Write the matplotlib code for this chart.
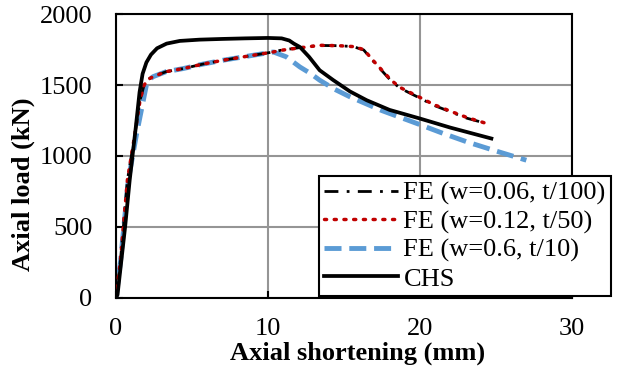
import matplotlib
matplotlib.use("Agg")
import matplotlib.pyplot as plt

plt.rcParams['font.family'] = ['Liberation Serif', 'DejaVu Serif']

# === Daten ===
# CHS
chs_x = [0.0, 0.1, 0.6, 0.9, 1.3, 1.55, 1.75, 2.0, 2.3, 2.7, 3.33, 4.2, 5.5, 7.0, 8.5, 10.0, 10.9, 11.4, 11.7, 12.1, 12.7, 13.4, 14.3, 15.4, 16.5, 18.0, 20.0, 22.0, 24.7]
chs_y = [0, 20, 500, 829, 1200, 1450, 1580, 1660, 1715, 1760, 1793, 1812, 1821, 1826, 1830, 1833, 1830, 1815, 1793, 1769, 1700, 1605, 1535, 1455, 1393, 1325, 1264, 1200, 1123]

# FE (w=0.6, t/10)
fe3_x = [0.0, 0.3, 0.81, 1.36, 1.8, 2.0, 2.2, 2.45, 3.3, 4.43, 5.7, 7.06, 8.7, 10.35, 11.2, 12.1, 12.8, 13.4, 14.4, 15.4, 17.5, 19.8, 21.5, 23.1, 25.0, 27.0]
fe3_y = [0, 260, 829, 1158, 1393, 1500, 1540, 1560, 1595, 1617, 1648, 1676, 1705, 1734, 1700, 1628, 1582, 1535, 1470, 1417, 1320, 1229, 1160, 1099, 1035, 970]

# FE (w=0.12, t/50)
fe2_x = [0.0, 0.3, 0.75, 1.25, 1.58, 1.85, 2.1, 2.45, 3.3, 4.43, 5.7, 7.06, 8.7, 10.35, 10.8, 12.1, 13.4, 14.7, 15.6, 16.3, 17.0, 18.1, 18.7, 20.0, 20.9, 22.0, 23.1, 24.6]
fe2_y = [0, 270, 829, 1158, 1393, 1500, 1540, 1560, 1595, 1617, 1648, 1676, 1705, 1734, 1745, 1763, 1781, 1778, 1772, 1751, 1664, 1535, 1483, 1413, 1363, 1316, 1271, 1222]

# FE (w=0.06, t/100)
fe1_x = [0.0, 0.3, 0.75, 1.25, 1.58, 1.85, 2.1, 2.45, 3.3, 4.43, 5.7, 7.06, 8.7, 10.35, 10.8, 12.1, 13.4, 14.7, 15.6, 16.3, 17.0, 18.1, 18.7, 20.0, 20.9, 22.0, 23.1, 24.0]
fe1_y = [0, 270, 829, 1158, 1393, 1500, 1540, 1560, 1595, 1617, 1648, 1676, 1705, 1734, 1745, 1765, 1780, 1778, 1772, 1748, 1660, 1530, 1478, 1408, 1358, 1312, 1266, 1240]

labels = ["FE (w=0.06, t/100)", "FE (w=0.12, t/50)", "FE (w=0.6, t/10)", "CHS"]
x_ticks = [0, 10, 20, 30]
y_ticks = [0, 500, 1000, 1500, 2000]

fig = plt.figure(figsize=(6.22, 3.72), dpi=100)
ax = fig.add_axes([0.1865, 0.2, 0.733, 0.7616])

ax.plot(fe1_x, fe1_y, color='black', lw=2, ls=(0, (5, 3, 1, 3)), label=labels[0], zorder=3)
ax.plot(fe2_x, fe2_y, color='#C00000', lw=2.5, ls=(0, (0.6, 2.2)), dash_capstyle='round', label=labels[1], zorder=4)
ax.plot(fe3_x, fe3_y, color='#5B9BD5', lw=3.5, ls=(0, (3.5, 1.6)), label=labels[2], zorder=2)
ax.plot(chs_x, chs_y, color='black', lw=2.7, label=labels[3], zorder=5)

ax.set_xlim(0, 30)
ax.set_ylim(0, 2000)
ax.set_xticks(x_ticks)
ax.set_yticks(y_ticks)
ax.grid(True, color='#959595', lw=1.5)
ax.set_axisbelow(True)
for sp in ax.spines.values():
    sp.set_linewidth(1.5)
    sp.set_color('black')
ax.tick_params(axis='both', direction='in', length=5, width=1.5, labelsize=19)
ax.tick_params(axis='x', pad=15)
ax.tick_params(axis='y', pad=17)

ax.set_xlabel("Axial shortening (mm)", fontsize=19, fontweight='bold')
ax.set_ylabel("Axial load (kN)", fontsize=19, fontweight='bold')
ax.xaxis.set_label_coords(0.53, -0.155)
ax.yaxis.set_label_coords(-0.178, 0.40)

leg = ax.legend(loc='upper left', bbox_to_anchor=(319 / 622, 1 - 176 / 372),
                bbox_transform=fig.transFigure, fontsize=19, frameon=True,
                fancybox=False, handlelength=2.8, handletextpad=0.2,
                labelspacing=0.18, borderpad=0.2, borderaxespad=0)
leg.get_frame().set_edgecolor('black')
leg.get_frame().set_linewidth(1.5)
leg.get_frame().set_alpha(1)
leg.set_clip_on(False)

fig.savefig("out.png", dpi=100)
